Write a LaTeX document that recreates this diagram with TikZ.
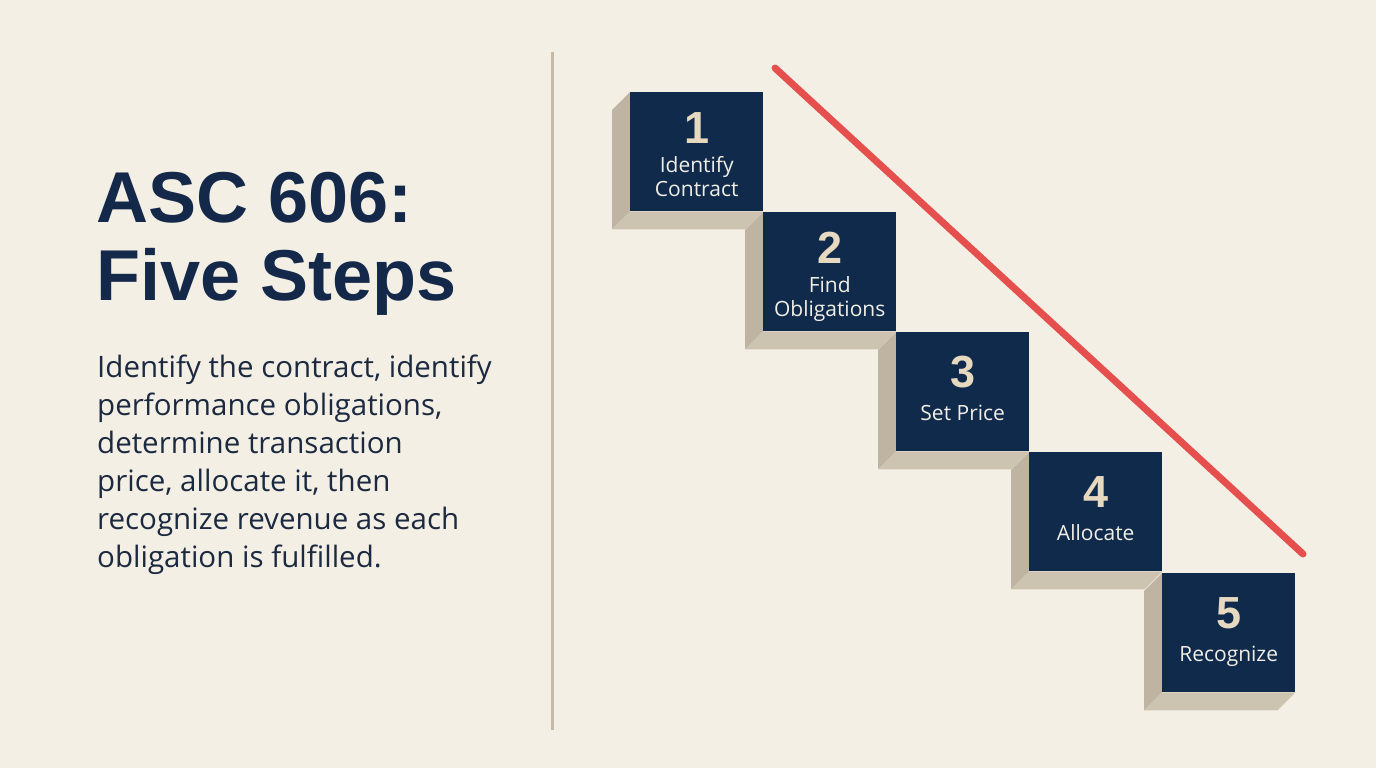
\documentclass[tikz,border=0pt]{standalone}
\usepackage{fontspec}
\setmainfont{Open Sans}
\newfontfamily\titlefont{Liberation Sans}
\usetikzlibrary{calc}
\definecolor{bg}{HTML}{F4EFE4}
\definecolor{navy}{HTML}{0F2A4A}
\definecolor{ink}{HTML}{14284A}
\definecolor{bodyink}{HTML}{1B2A40}
\definecolor{beige}{HTML}{E6D9C0}
\definecolor{lbl}{HTML}{F1EEE7}
\definecolor{sideL}{HTML}{BFB4A2}
\definecolor{sideB}{HTML}{CDC3B1}
\definecolor{redline}{HTML}{E5504E}
\definecolor{divider}{HTML}{C6BAA7}
\tikzset{
  stepbox/.style={draw=none, fill=navy, minimum width=133pt, minimum height=119pt, anchor=north west, inner sep=0pt},
  numtext/.style={anchor=base, inner sep=0pt, text=beige, font=\titlefont\bfseries\fontsize{45}{45}\selectfont},
  lbltext/.style={anchor=base, inner sep=0pt, text=lbl, font=\fontsize{21}{21}\selectfont},
  titletext/.style={anchor=base west, inner sep=0pt, text=ink, font=\titlefont\bfseries\fontsize{72}{72}\selectfont},
  bodytext/.style={anchor=base west, inner sep=0pt, text=bodyink, font=\fontsize{29.5}{29.5}\selectfont},
}
\newcommand{\stepshadow}[1]{%
  \fill[sideL] (#1.north west) -- ++(-18,18) -- ($(#1.south west)+(-18,18)$) -- (#1.south west) -- cycle;
  \fill[sideB] (#1.south west) -- ++(-18,18) -- ($(#1.south east)+(-18,18)$) -- (#1.south east) -- cycle;
}
\begin{document}
\begin{tikzpicture}[x=1pt, y=-1pt]
\fill[bg] (0,0) rectangle (1376,768);
\useasboundingbox (0,0) rectangle (1376,768);

% title
\node[titletext] (title1) at (96,222) {ASC 606:};
\node[titletext] (title2) at (96,300) {Five Steps};

% body
\node[bodytext] (t1) at (97,377) {Identify the contract, identify};
\node[bodytext] (t2) at (97,415) {performance obligations,};
\node[bodytext] (t3) at (97,453) {determine transaction};
\node[bodytext] (t4) at (97,491) {price, allocate it, then};
\node[bodytext] (t5) at (97,529) {recognize revenue as each};
\node[bodytext] (t6) at (97,567) {obligation is fulfilled.};

% divider
\coordinate (dtop) at (552,52);
\coordinate (dbot) at (552,730);
\draw[divider, line width=3pt] (dtop) -- (dbot);

% boxes (positions)
\path
  node[stepbox] (b1) at (630,92) {}
  node[stepbox] (b2) at (763,212) {}
  node[stepbox] (b3) at (896,332) {}
  node[stepbox] (b4) at (1029,452) {}
  node[stepbox] (b5) at (1162,573) {};
% shadows
\stepshadow{b1}\stepshadow{b2}\stepshadow{b3}\stepshadow{b4}\stepshadow{b5}
% boxes drawn on top
\node[stepbox] at (630,92) {};
\node[stepbox] at (763,212) {};
\node[stepbox] at (896,332) {};
\node[stepbox] at (1029,452) {};
\node[stepbox] at (1162,573) {};

% texts
\node[numtext] (n1) at ($(b1.north)+(0,51)$) {1};
\node[lbltext] (l1a) at ($(b1.north)+(0,80)$) {Identify};
\node[lbltext] (l1b) at ($(b1.north)+(0,104)$) {Contract};
\node[numtext] (n2) at ($(b2.north)+(0,51)$) {2};
\node[lbltext] (l2a) at ($(b2.north)+(0,80)$) {Find};
\node[lbltext] (l2b) at ($(b2.north)+(0,104)$) {Obligations};
\node[numtext] (n3) at ($(b3.north)+(0,55)$) {3};
\node[lbltext] (l3) at ($(b3.north)+(0,88)$) {Set Price};
\node[numtext] (n4) at ($(b4.north)+(0,55)$) {4};
\node[lbltext] (l4) at ($(b4.north)+(0,88)$) {Allocate};
\node[numtext] (n5) at ($(b5.north)+(0,55)$) {5};
\node[lbltext] (l5) at ($(b5.north)+(0,88)$) {Recognize};

% red line
\coordinate (rtop) at (775,68);
\coordinate (rbot) at (1303,554);
\draw[redline, line width=7pt, line cap=round] (rtop) -- (rbot);
\end{tikzpicture}
\end{document}
